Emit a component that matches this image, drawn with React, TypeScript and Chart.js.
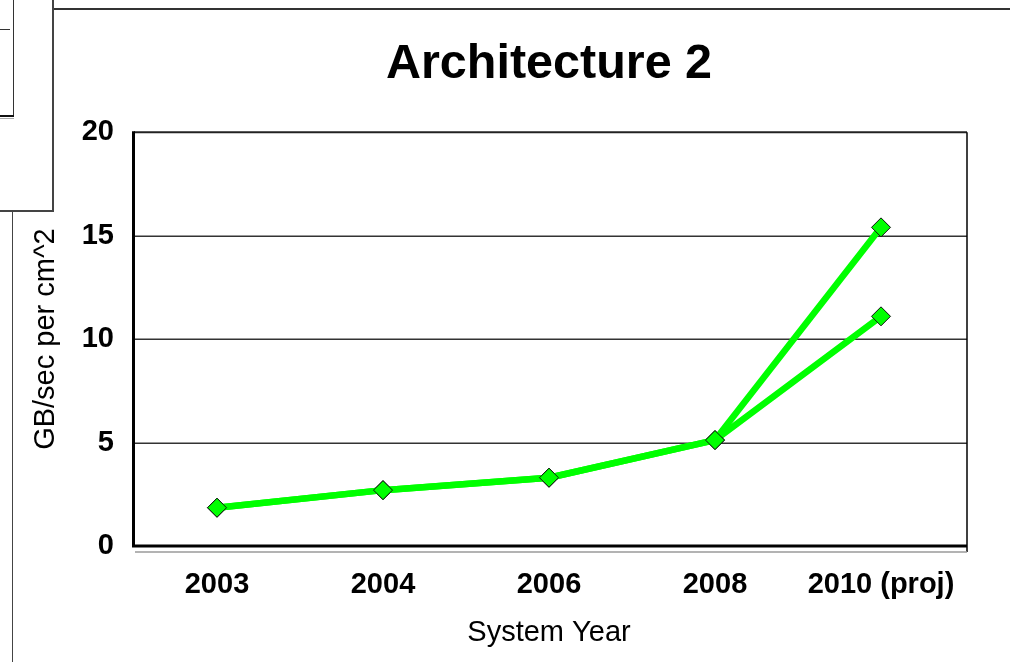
import React, { useEffect, useRef } from "react";
import { Chart, registerables } from "chart.js";

Chart.register(...registerables);

// System years on the category axis
const years = ["2003", "2004", "2006", "2008", "2010 (proj)"];
// Bandwidth density, GB/sec per cm^2 (two projections for 2010)
const highProjection = [1.85, 2.7, 3.3, 5.12, 15.4];
const lowProjection = [1.85, 2.7, 3.3, 5.12, 11.1];
// Value axis ticks
const yTicks = [0, 5, 10, 15, 20];

const FONT = "'Liberation Sans', Arial, Helvetica, sans-serif";
const GREEN = "#00ff00";

// Plot frame, horizontal grid lines and the shadowed base line
const plotFrame = {
  id: "plotFrame",
  beforeDatasetsDraw(chart: any) {
    const { ctx, chartArea, scales } = chart;
    const { left, top, right, bottom } = chartArea;
    const y = scales.y;
    const edge = right + 3;
    ctx.save();
    ctx.lineCap = "butt";
    // inner grid lines
    ctx.strokeStyle = "#333";
    ctx.lineWidth = 1.5;
    yTicks.slice(1, -1).forEach((v) => {
      const py = Math.round(y.getPixelForValue(v)) + 0.25;
      ctx.beginPath();
      ctx.moveTo(left, py);
      ctx.lineTo(edge, py);
      ctx.stroke();
    });
    // top edge
    ctx.strokeStyle = "#222";
    ctx.lineWidth = 2;
    ctx.beginPath();
    ctx.moveTo(left, top);
    ctx.lineTo(edge, top);
    ctx.stroke();
    // right edge
    ctx.strokeStyle = "#000";
    ctx.lineWidth = 1.5;
    ctx.beginPath();
    ctx.moveTo(edge, top);
    ctx.lineTo(edge, bottom + 6);
    ctx.stroke();
    // shadow beneath base line
    ctx.strokeStyle = "#9a9a9a";
    ctx.lineWidth = 1.5;
    ctx.beginPath();
    ctx.moveTo(left + 1, bottom + 6);
    ctx.lineTo(edge, bottom + 6);
    ctx.stroke();
    // left axis and base line
    ctx.strokeStyle = "#000";
    ctx.lineWidth = 3;
    ctx.beginPath();
    ctx.moveTo(left - 0.5, top - 1);
    ctx.lineTo(left - 0.5, bottom);
    ctx.lineTo(edge, bottom);
    ctx.stroke();
    ctx.restore();
  },
};

function Rule(props: { x: number; y: number; w: number; h: number; c?: string }) {
  return (
    <div
      style={{
        position: "absolute",
        left: props.x,
        top: props.y,
        width: props.w,
        height: props.h,
        background: props.c || "#333",
      }}
    />
  );
}

export default function App() {
  const canvasRef = useRef<HTMLCanvasElement | null>(null);

  useEffect(() => {
    document.body.style.margin = "0";
    const canvas = canvasRef.current;
    if (!canvas) return;

    const lineStyle = {
      borderColor: GREEN,
      borderWidth: 6.5,
      borderJoinStyle: "round" as const,
      borderCapStyle: "round" as const,
      pointStyle: "rectRot" as const,
      pointRadius: 9.5,
      pointBackgroundColor: GREEN,
      pointBorderColor: "#111",
      pointBorderWidth: 1,
      tension: 0,
      fill: false,
    };

    const chart = new Chart(canvas, {
      type: "line",
      data: {
        labels: years,
        datasets: [
          { label: "High", data: highProjection, ...lineStyle },
          { label: "Low", data: lowProjection, ...lineStyle },
        ],
      },
      plugins: [plotFrame],
      options: {
        responsive: false,
        animation: false,
        devicePixelRatio: 1,
        layout: { padding: { top: 0, right: 46, bottom: 0, left: 0 } },
        plugins: {
          legend: { display: false },
          tooltip: { enabled: false },
          title: {
            display: true,
            fullSize: false,
            text: "Architecture 2",
            color: "#000",
            font: { family: FONT, size: 48.5, weight: "bold" },
            padding: { top: 36, bottom: 38 },
          },
        },
        scales: {
          x: {
            type: "category",
            offset: true,
            grid: { display: false, drawTicks: false },
            border: { display: false },
            ticks: {
              color: "#000",
              padding: 22,
              maxRotation: 0,
              font: { family: FONT, size: 29, weight: "bold" },
            },
            title: {
              display: true,
              text: "System Year",
              color: "#000",
              font: { family: FONT, size: 29 },
              padding: { top: 0, bottom: 12 },
            },
            afterFit: (scale: any) => {
              scale.height = 116;
            },
          },
          y: {
            min: 0,
            max: 20,
            afterBuildTicks: (scale: any) => {
              scale.ticks = yTicks.map((v) => ({ value: v }));
            },
            grid: { display: false, drawTicks: false },
            border: { display: false },
            ticks: {
              color: "#000",
              padding: 20,
              font: { family: FONT, size: 29, weight: "bold" },
            },
            title: {
              display: true,
              text: "GB/sec per cm^2",
              color: "#000",
              font: { family: FONT, size: 29 },
              padding: { top: 29, bottom: 0 },
            },
            afterFit: (scale: any) => {
              scale.width = 134;
            },
          },
        },
      },
    });

    return () => chart.destroy();
  }, []);

  return (
    <div style={{ position: "relative", width: 1010, height: 662, background: "#fff", overflow: "hidden" }}>
      {/* neighbouring slide panels */}
      <Rule x={53} y={8} w={957} h={2} c="#333" />
      <Rule x={52} y={0} w={1.5} h={211} c="#444" />
      <Rule x={0} y={210} w={53.5} h={1.5} c="#444" />
      <Rule x={11.5} y={211} w={1.5} h={451} c="#444" />
      <Rule x={12.5} y={0} w={1.5} h={117} c="#333" />
      <Rule x={0} y={28.5} w={10} h={1.5} c="#333" />
      <Rule x={0} y={114.5} w={13.5} h={2.5} c="#111" />
      <Rule x={0} y={117.5} w={14} h={1} c="#aaa" />
      <canvas
        ref={canvasRef}
        width={1010}
        height={662}
        style={{ position: "absolute", left: 0, top: 0, width: 1010, height: 662 }}
      />
    </div>
  );
}
